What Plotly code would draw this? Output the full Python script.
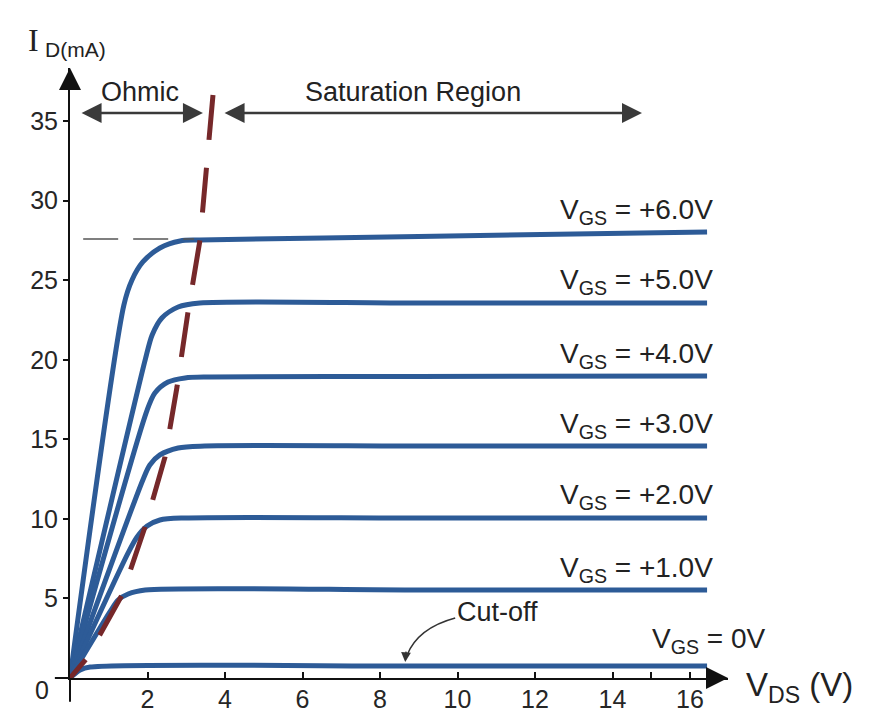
import plotly.graph_objects as go

# drain characteristic curves (V_DS in volts, I_D in mA)
vgs_labels = ["V<sub>GS</sub> = +6.0V", "V<sub>GS</sub> = +5.0V", "V<sub>GS</sub> = +4.0V",
              "V<sub>GS</sub> = +3.0V", "V<sub>GS</sub> = +2.0V", "V<sub>GS</sub> = +1.0V",
              "V<sub>GS</sub> = 0V"]

vds_6 = [0, 1.39, 1.60, 1.88, 2.32, 2.84, 3.35, 9.0, 16.44]
id_6 = [0, 23.44, 25.02, 26.15, 27.03, 27.47, 27.53, 27.75, 28.03]

vds_5 = [0, 1.94, 2.12, 2.37, 2.79, 3.35, 9.0, 16.44]
id_5 = [0, 19.99, 21.56, 22.63, 23.32, 23.57, 23.57, 23.57]

vds_4 = [0, 1.99, 2.19, 2.53, 2.97, 3.61, 9.0, 16.44]
id_4 = [0, 16.84, 17.91, 18.60, 18.86, 18.92, 18.95, 18.98]

vds_3 = [0, 1.88, 2.06, 2.32, 2.79, 3.48, 9.0, 16.44]
id_3 = [0, 12.45, 13.39, 14.02, 14.46, 14.58, 14.58, 14.58]

vds_2 = [0, 1.50, 1.73, 1.99, 2.32, 2.97, 9.0, 16.44]
id_2 = [0, 7.86, 8.86, 9.55, 9.93, 10.06, 10.06, 10.06]

vds_1 = [0, 1.03, 1.24, 1.50, 1.94, 9.0, 16.44]
id_1 = [0, 4.15, 4.90, 5.28, 5.53, 5.53, 5.53]

vds_0 = [0, 0.26, 0.52, 9.0, 16.44]
id_0 = [0, 0.50, 0.69, 0.75, 0.75]

# ohmic / saturation boundary (drawn from the top down)
edge_vds = [3.69, 3.51, 3.355, 3.045, 2.761, 2.452, 1.935, 1.342, 0.439, 0]
edge_id = [36.64, 32.06, 27.53, 23.00, 18.29, 13.89, 9.49, 5.22, 1.26, 0]

# pinch-off level marker for V_GS = +6V
pinch_vds = [0.34, 3.2]
pinch_id = [27.59, 27.59]

x_ticks = [2, 4, 6, 8, 10, 12, 14, 15, 16]
x_ticktext = ["2", "4", "6", "8", "10", "12", "14", "", "16"]
y_ticks = [5, 10, 15, 20, 25, 30, 35]

curves = [(vds_6, id_6), (vds_5, id_5), (vds_4, id_4), (vds_3, id_3),
          (vds_2, id_2), (vds_1, id_1), (vds_0, id_0)]

BLUE = "#2d5b97"
TXT = "#222222"
FONT = "Liberation Sans, Arial, sans-serif"

fig = go.Figure()

for xs, ys in curves:
    fig.add_trace(go.Scatter(x=xs, y=ys, mode="lines", line_shape="spline",
                             line=dict(color=BLUE, width=5, smoothing=0.8),
                             cliponaxis=False, hoverinfo="skip", showlegend=False))

fig.add_trace(go.Scatter(x=pinch_vds, y=pinch_id, mode="lines",
                         line=dict(color="#555555", width=1.5, dash="35px,15px"),
                         hoverinfo="skip", showlegend=False))

fig.add_trace(go.Scatter(x=edge_vds, y=edge_id, mode="lines",
                         line=dict(color="#76282a", width=5, dash="45px,28px"),
                         cliponaxis=False, hoverinfo="skip", showlegend=False))

annotations = []

# V_GS labels sit just above the right end of each curve
for (xs, ys), label in zip(curves, vgs_labels):
    zero = "+" not in label
    annotations.append(dict(x=xs[-1], y=ys[-1], xref="x", yref="y", text=label,
                            showarrow=False, xanchor="right", yanchor="middle",
                            xshift=60 if zero else 8, yshift=26 if zero else 21,
                            font=dict(size=28, color=TXT, family=FONT)))

# region arrows
for x0, x1 in [(0.26, 3.43), (3.95, 14.76)]:
    annotations.append(dict(x=x1, y=35.51, ax=x0, ay=35.51, xref="x", yref="y",
                            axref="x", ayref="y", text="", showarrow=True,
                            arrowside="end+start", arrowhead=2, arrowsize=1.6,
                            arrowwidth=2.5, arrowcolor="#3a3a3a", standoff=0,
                            startstandoff=0))
annotations.append(dict(x=1.81, y=36.83, xref="x", yref="y", text="Ohmic", showarrow=False,
                        xanchor="center", font=dict(size=27, color=TXT, family=FONT)))
annotations.append(dict(x=8.85, y=36.83, xref="x", yref="y", text="Saturation Region",
                        showarrow=False, xanchor="center",
                        font=dict(size=27, color=TXT, family=FONT)))

# cut-off note
annotations.append(dict(x=11.02, y=4.15, xref="x", yref="y", text="Cut-off", showarrow=False,
                        xanchor="center", font=dict(size=27, color=TXT, family=FONT)))
annotations.append(dict(x=8.65, y=1.0, xref="x", yref="y", ax=1, ay=-12, text="",
                        showarrow=True, arrowhead=2, arrowsize=1.3, arrowwidth=1.5,
                        arrowcolor="#333333", standoff=0))

# axis arrowheads
annotations.append(dict(x=0, y=1, xref="paper", yref="paper", ax=0, ay=20, text="",
                        showarrow=True, arrowhead=2, arrowsize=2.2, arrowwidth=2,
                        arrowcolor="#111111", standoff=0))
annotations.append(dict(x=1, y=0, xref="paper", yref="paper", ax=-20, ay=0, text="",
                        showarrow=True, arrowhead=2, arrowsize=2.2, arrowwidth=2,
                        arrowcolor="#111111", standoff=0))

# axis titles and origin label
annotations.append(dict(x=-0.056, y=1.046, xref="paper", yref="paper", text="I",
                        showarrow=False, xanchor="center", yanchor="middle",
                        font=dict(size=32, color=TXT, family="Liberation Serif, serif")))
annotations.append(dict(x=0.009, y=1.030, xref="paper", yref="paper", text="D(mA)",
                        showarrow=False, xanchor="center", yanchor="middle",
                        font=dict(size=21, color=TXT, family=FONT)))
annotations.append(dict(x=1.109, y=-0.015, xref="paper", yref="paper",
                        text="V<sub>DS</sub> (V)", showarrow=False,
                        xanchor="center", yanchor="middle",
                        font=dict(size=33, color=TXT, family=FONT)))
annotations.append(dict(x=-0.043, y=-0.02, xref="paper", yref="paper", text="0",
                        showarrow=False, xanchor="center", yanchor="middle",
                        font=dict(size=25, color=TXT, family=FONT)))

shapes = [
    # axes cross a little past the origin
    dict(type="line", xref="paper", yref="paper", x0=0, x1=0, y0=0, y1=-0.039,
         line=dict(color="#111111", width=2)),
    dict(type="line", xref="paper", yref="paper", x0=0, x1=-0.023, y0=0, y1=0,
         line=dict(color="#111111", width=2)),
    # curved pointer to the cut-off line
    dict(type="path", xref="x", yref="y", path="M 9.94,3.77 Q 8.98,3.14 8.70,1.45",
         line=dict(color="#333333", width=1.5)),
]

# the page body adds an 8px margin, so the figure is 8px smaller on each axis
fig.update_layout(
    width=862, height=717,
    margin=dict(l=62, r=142, t=60, b=47),
    paper_bgcolor="white", plot_bgcolor="white",
    font=dict(family=FONT, size=25, color="#262626"),
    xaxis=dict(range=[0, 16.98], tickvals=x_ticks, ticktext=x_ticktext,
               showgrid=False, zeroline=False, showline=True, linecolor="#111111",
               linewidth=2, ticks="inside", ticklen=6, tickwidth=2, tickcolor="#111111",
               ticklabelstandoff=-2, tickfont=dict(size=25, color="#262626")),
    yaxis=dict(range=[0, 38.34], tickvals=y_ticks, showgrid=False, zeroline=False,
               showline=True, linecolor="#111111", linewidth=2, ticks="outside",
               ticklen=5, tickwidth=2, tickcolor="#111111", ticklabelstandoff=0,
               tickfont=dict(size=25, color="#262626")),
    annotations=annotations,
    shapes=shapes,
    showlegend=False,
)

fig.write_html("out.html")
